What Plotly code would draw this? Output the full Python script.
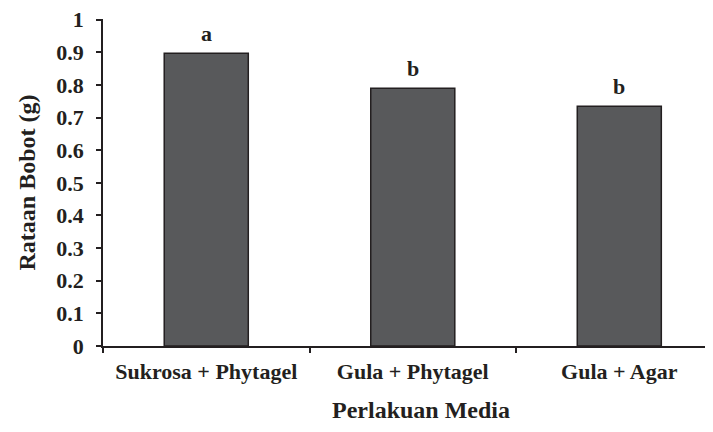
import plotly.graph_objects as go

categories = ["Sukrosa + Phytagel", "Gula + Phytagel", "Gula + Agar"]
values = [0.897, 0.790, 0.735]
letters = ["a", "b", "b"]
y_ticks = [0, 0.1, 0.2, 0.3, 0.4, 0.5, 0.6, 0.7, 0.8, 0.9, 1]
y_tick_labels = ["0", "0.1", "0.2", "0.3", "0.4", "0.5", "0.6", "0.7", "0.8", "0.9", "1"]

FONT = "Liberation Serif"
INK = "#231f20"

fig = go.Figure()
fig.add_trace(go.Bar(
    x=categories, y=values, width=0.407,
    marker=dict(color="#58595b", line=dict(color="#231f20", width=1.5)),
    hoverinfo="skip",
))

for c, v, t in zip(categories, values, letters):
    fig.add_annotation(x=c, y=v, text=t, showarrow=False, yshift=20,
                       font=dict(family=FONT, size=22, color=INK, weight="bold"))

# x-axis title placed as annotation to match reference position
fig.add_annotation(x=0.528, y=-0.196, xref="paper", yref="paper",
                   text="Perlakuan Media", showarrow=False, yanchor="middle",
                   font=dict(family=FONT, size=24, color=INK, weight="bold"))

fig.update_layout(
    width=697, height=416,
    margin=dict(l=95, r=0, t=11, b=78),
    paper_bgcolor="white", plot_bgcolor="white",
    showlegend=False,
    font=dict(family=FONT, size=22, color=INK, weight="bold"),
    xaxis=dict(
        type="category", range=[-0.5, 2.415],
        showline=True, linecolor=INK, linewidth=1.5,
        ticks="outside", tickson="boundaries", ticklen=5, tickcolor=INK, tickwidth=1.5,
        ticklabelstandoff=5,
        showgrid=False, zeroline=False,
        tickfont=dict(family=FONT, size=22, color=INK, weight="bold"),
        automargin=False,
    ),
    yaxis=dict(
        range=[0, 1.002], tickmode="array", tickvals=y_ticks, ticktext=y_tick_labels,
        showline=True, linecolor=INK, linewidth=1.5,
        ticks="outside", ticklen=5, tickcolor=INK, tickwidth=1.5,
        ticklabelstandoff=8, ticklabeloverflow="allow",
        showgrid=False, zeroline=False,
        tickfont=dict(family=FONT, size=22, color=INK, weight="bold"),
        title=dict(text="Rataan Bobot (g)", standoff=14,
                   font=dict(family=FONT, size=24, color=INK, weight="bold")),
        automargin=False,
    ),
)

fig.write_html("out.html")
